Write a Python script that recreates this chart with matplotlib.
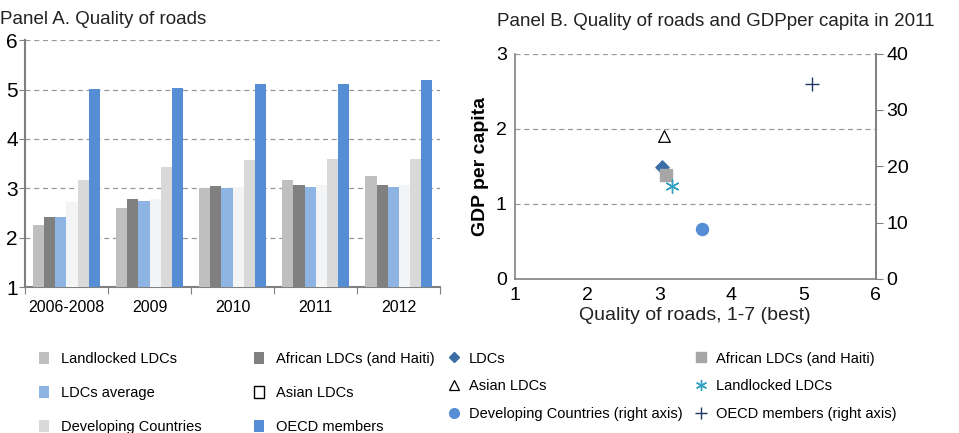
import numpy as np
from matplotlib import pyplot as plt
from matplotlib.patches import Patch
from matplotlib.lines import Line2D

plt.rcParams['font.family'] = ['Liberation Sans', 'DejaVu Sans']

# Panel A data
periods = ['2006-2008', '2009', '2010', '2011', '2012']
bar_names = ['Landlocked LDCs', 'African LDCs (and Haiti)', 'LDCs average',
             'Asian LDCs', 'Developing Countries', 'OECD members']
landlocked = [2.25, 2.61, 3.01, 3.17, 3.26]
african = [2.42, 2.79, 3.05, 3.07, 3.07]
ldc_avg = [2.42, 2.75, 3.01, 3.03, 3.03]
asian = [2.72, 2.79, 3.02, 3.07, 3.06]
developing = [3.17, 3.43, 3.57, 3.60, 3.60]
oecd = [5.01, 5.03, 5.12, 5.12, 5.20]
bar_colors = ['#bfbfbf', '#808080', '#8db4e2', '#f3f4f6', '#d9d9d9', '#558ed5']

# Panel B data (quality of roads, GDP per capita)
sc_names = ['LDCs', 'African LDCs (and Haiti)', 'Asian LDCs', 'Landlocked LDCs']
sc_x = [3.04, 3.09, 3.06, 3.18]
sc_y = [1.49, 1.38, 1.91, 1.24]
right_names = ['Developing Countries (right axis)', 'OECD members (right axis)']
right_x = [3.60, 5.12]
right_y = [8.9, 34.7]

grid_kw = dict(color='#999999', linestyle=(0, (4, 3)), linewidth=0.9)
spine_c = '#808080'

fig = plt.figure(figsize=(9.59, 4.33), dpi=100)

# ---- Panel A ----
ax = fig.add_axes([0.026, 0.337, 0.433, 0.570])
series = [landlocked, african, ldc_avg, asian, developing, oecd]
x = np.arange(len(periods))
w = 0.8 / 6
for i, vals in enumerate(series):
    ax.bar(x - 0.4 + w * (i + 0.5), np.array(vals) - 1, w, bottom=1,
           color=bar_colors[i], zorder=3)
ax.set_ylim(1, 6)
ax.set_xlim(-0.5, 4.5)
ax.set_yticks([1, 2, 3, 4, 5, 6])
ax.tick_params(axis='y', labelsize=15, length=4, color=spine_c, pad=1)
ax.set_xticks(np.arange(-0.5, 5, 1))
ax.set_xticklabels([])
ax.set_xticks(x, minor=True)
ax.set_xticklabels(periods, minor=True)
ax.tick_params(axis='x', which='major', length=5, color=spine_c)
ax.tick_params(axis='x', which='minor', length=0, labelsize=11.5, pad=9)
for yv in [2, 3, 4, 5, 6]:
    ax.axhline(yv, zorder=1, **grid_kw)
for s in ['top', 'right']:
    ax.spines[s].set_visible(False)
for s in ['left', 'bottom']:
    ax.spines[s].set_color(spine_c)
    ax.spines[s].set_linewidth(1.5)
fig.text(0.0, 0.945, 'Panel A. Quality of roads', fontsize=13.5, color='#222222')

# ---- Panel B ----
bx = fig.add_axes([0.537, 0.356, 0.376, 0.520])
bx.set_xlim(1, 6)
bx.set_ylim(0, 3)
bx.set_yticks([0, 1, 2, 3])
bx.set_xticks([1, 2, 3, 4, 5, 6])
for yv in [1, 2, 3]:
    bx.axhline(yv, zorder=1, **grid_kw)
bx.tick_params(labelsize=14, length=0, pad=6)
bx.spines['top'].set_visible(False)
for s in ['left', 'bottom', 'right']:
    bx.spines[s].set_color(spine_c)
    bx.spines[s].set_linewidth(1.2)
bx.set_xlabel('Quality of roads, 1-7 (best)', fontsize=14, labelpad=2, color='#222222')
bx.set_ylabel('GDP per capita', fontsize=14, fontweight='bold', labelpad=5)

bx.scatter(sc_x[0], sc_y[0], marker='D', s=45, color='#3a6ea5', zorder=4)
bx.scatter(sc_x[1], sc_y[1], marker='s', s=75, color='#a6a6a6', zorder=4)
bx.scatter(sc_x[2], sc_y[2], marker='^', s=70, facecolor='white', edgecolor='black',
           linewidth=0.9, zorder=5)
bx.scatter(sc_x[3], sc_y[3], marker=(6, 2, 0), s=90, color='#31a0c0', linewidth=1, zorder=5)

rx = bx.twinx()
rx.set_ylim(0, 40)
rx.set_yticks([0, 10, 20, 30, 40])
rx.tick_params(labelsize=14, length=5, color=spine_c, pad=3)
for s in ['top', 'left', 'bottom']:
    rx.spines[s].set_visible(False)
rx.spines['right'].set_color(spine_c)
rx.spines['right'].set_linewidth(1.2)
rx.scatter(right_x[0], right_y[0], marker='o', s=75, color='#558ed5', zorder=4)
rx.scatter(right_x[1], right_y[1], marker='+', s=110, color='#1f3864', linewidth=1, zorder=4)
fig.text(0.518, 0.94, 'Panel B. Quality of roads and GDPper capita in 2011',
         fontsize=13.5, color='#222222')

# ---- Legends ----
handles_a = []
for name, c in zip(bar_names, bar_colors):
    if name == 'Asian LDCs':
        handles_a.append(Patch(facecolor='white', edgecolor='black', linewidth=1, label=name))
    else:
        handles_a.append(Patch(facecolor=c, edgecolor='none', label=name))
order = [0, 2, 4, 1, 3, 5]
fig.legend([handles_a[i] for i in order], [bar_names[i] for i in order],
           loc='upper left', bbox_to_anchor=(0.033, 0.203), ncol=2, frameon=False,
           fontsize=10.5, handlelength=0.7, handleheight=0.9, handletextpad=0.8,
           labelspacing=1.35, columnspacing=3.6, borderpad=0)

handles_b = [
    Line2D([], [], marker='D', color='#3a6ea5', linestyle='none', markersize=5),
    Line2D([], [], marker='^', markerfacecolor='white', markeredgecolor='black',
           linestyle='none', markersize=7, markeredgewidth=0.9),
    Line2D([], [], marker='o', color='#558ed5', linestyle='none', markersize=7),
    Line2D([], [], marker='s', color='#a6a6a6', linestyle='none', markersize=7),
    Line2D([], [], marker=(6, 2, 0), color='#31a0c0', linestyle='none', markersize=8),
    Line2D([], [], marker='+', color='#1f3864', linestyle='none', markersize=9),
]
labels_b = ['LDCs', 'Asian LDCs', 'Developing Countries (right axis)',
            'African LDCs (and Haiti)', 'Landlocked LDCs', 'OECD members (right axis)']
fig.legend(handles_b, labels_b, loc='upper left', bbox_to_anchor=(0.46, 0.205),
           ncol=2, frameon=False, fontsize=10.5, handlelength=0.8, handletextpad=0.6,
           labelspacing=0.95, columnspacing=0.9, borderpad=0)

plt.savefig('out.png', dpi=100)
